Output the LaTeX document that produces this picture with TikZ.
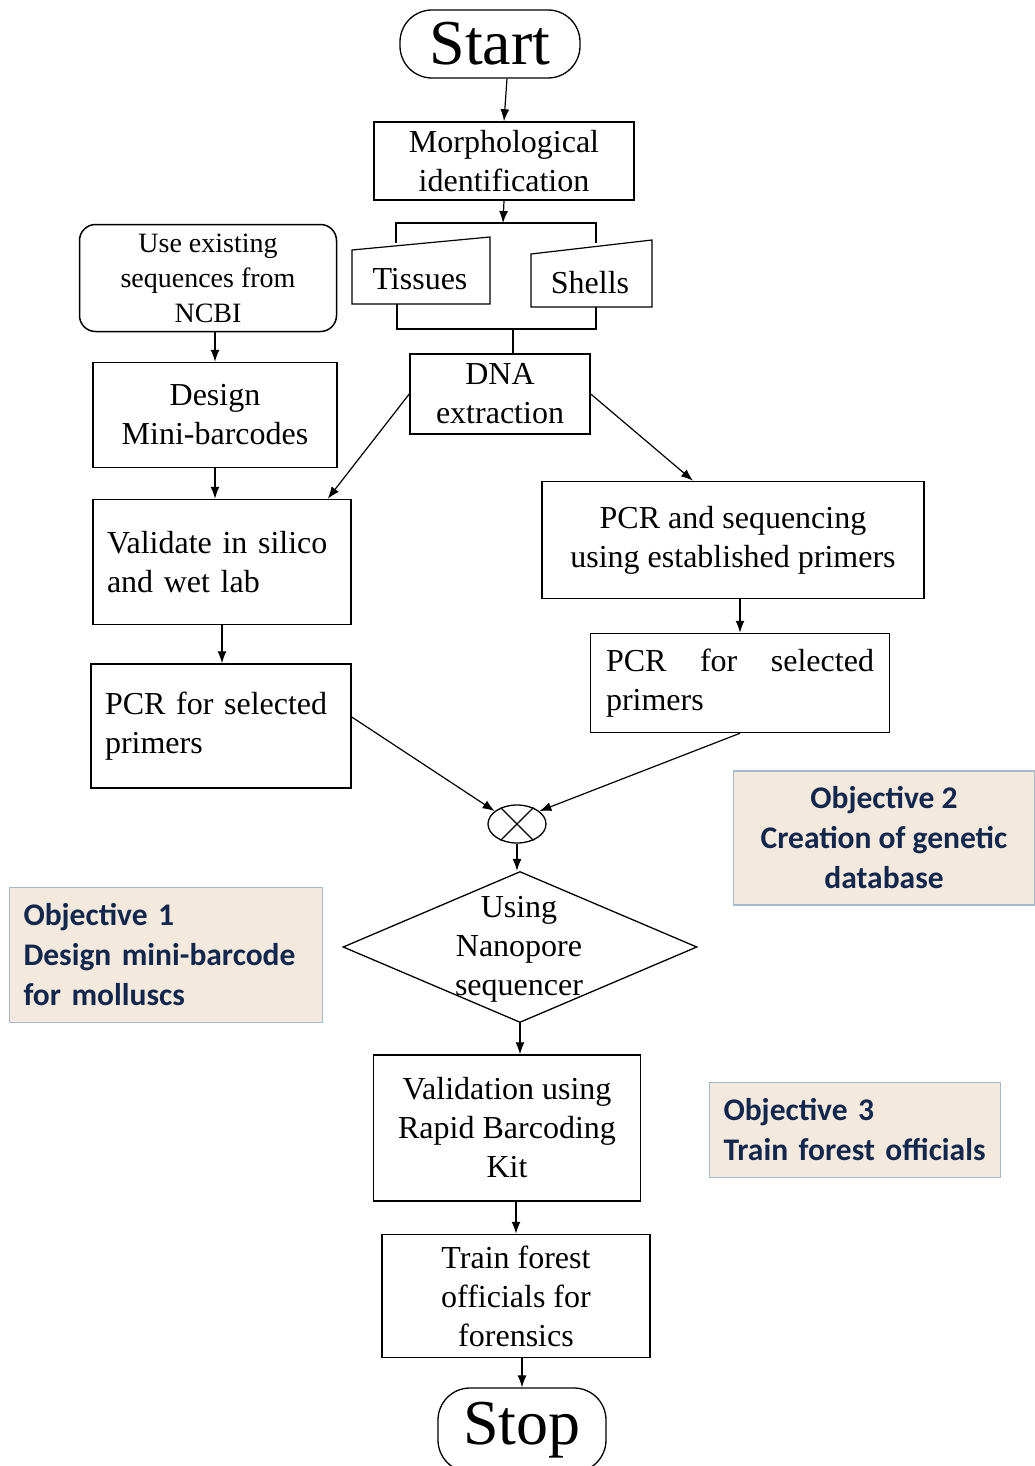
\documentclass[tikz,border=0pt]{standalone}
\usepackage{fontspec}
\setmainfont{Liberation Serif}
\newfontfamily\objfont{Carlito}
\usepackage{xcolor}
\usetikzlibrary{arrows.meta,positioning,shapes.geometric}
\definecolor{objfill}{RGB}{243,234,221}
\definecolor{objline}{RGB}{165,185,205}
\definecolor{objtext}{RGB}{18,38,78}

\begin{document}
\begin{tikzpicture}[x=1pt,y=-1pt,
		box/.style={draw,line width=1.5pt,inner sep=0pt,align=center,font=\fontsize{32}{39}\selectfont},
		term/.style={draw,line width=1.3pt,rounded corners=32pt,inner sep=0pt,font=\fontsize{64}{70}\selectfont},
		objbox/.style={draw=objline,fill=objfill,line width=1.2pt,inner sep=0pt,text=objtext,font=\objfont\bfseries\fontsize{31.5}{40}\selectfont},
		flow/.style={-{Latex[length=12pt,width=9pt]},line width=1.2pt},
		link/.style={line width=1.2pt}]
		\useasboundingbox (0,0) rectangle (1035,1466);
		\node[term,minimum width=180,minimum height=68] (start) at (490,44) {Start};
		\node[box,minimum width=260,minimum height=78] (morph) at (504,161) {Morphological\\identification};
		\draw[link] (352,250) -- (490,237) -- (490,304) -- (352,304) -- cycle;
		\draw[link] (531,254) -- (652,240) -- (652,307) -- (531,307) -- cycle;
		\node[box,draw=none] (tissues) at (420,279) {Tissues};
		\node[box,draw=none] (shells) at (590,283) {Shells};
		\coordinate (fork) at (503,223);
		\coordinate (merge) at (513,329);
		\node[box,minimum width=180,minimum height=80] (dna) at (500,394) {DNA\\extraction};
		\node[box,rounded corners=16pt,minimum width=257,minimum height=107,font=\fontsize{28}{35}\selectfont] (ncbi) at (208,278) {Use existing\\sequences from\\NCBI};
		\node[box,minimum width=244,minimum height=105] (design) at (215,415) {Design\\Mini-barcodes};
		\node[box,minimum width=258,minimum height=125,text width=230,align=left] (validate) at (222,562) {Validate in silico\\and wet lab};
		\node[box,minimum width=260,minimum height=124,text width=232,align=left] (pcrl) at (221,726) {PCR for selected\\primers};
		\node[box,minimum width=382,minimum height=117] (pcrseq) at (733,540) {PCR and sequencing\\using established primers};
		\node[box,minimum width=299,minimum height=99,text width=268,align=left] (pcrr) at (740,683) {\makebox[268pt][l]{PCR\hfill for\hfill selected}\\primers};
		\node[draw,ellipse,line width=1.3pt,minimum width=58,minimum height=38,inner sep=0pt] (join) at (517,824) {};
		\node[draw,diamond,line width=1.3pt,minimum width=354,minimum height=151,inner sep=0pt] (nano) at (520,947) {};
		\node[box,draw=none] (nanotext) at (519,949) {Using\\Nanopore\\sequencer};
		\node[box,minimum width=267,minimum height=146] (valid) at (507,1128) {Validation using\\Rapid Barcoding\\Kit};
		\node[box,minimum width=268,minimum height=123] (train) at (516,1296) {Train forest\\officials for\\forensics};
		\node[term,minimum width=168,minimum height=84] (stop) at (522,1430) {Stop};
		\node[objbox,minimum width=301,minimum height=134,align=center] (obj2) at (884,838) {Objective 2\\Creation of genetic\\database};
		\node[objbox,minimum width=313,minimum height=135,text width=285,align=left] (obj1) at (166,955) {Objective 1\\Design mini-barcode\\for molluscs};
		\node[objbox,minimum width=291,minimum height=95,text width=263,align=left] (obj3) at (855,1130) {Objective 3\\Train forest officials};
		\draw[flow] ([xshift=17]start.south) -- (morph.north);
		\draw[flow] (morph.south) -- (fork);
		\draw[link] (396,243) |- (fork) -| (596,243);
		\draw[link] (397,304) |- (merge) -| (596,307);
		\draw[link] (merge) -- (merge |- dna.north);
		\draw[flow] (ncbi.south -| design) -- (design.north);
		\draw[flow] (design.south) -- (design.south |- validate.north);
		\draw[flow] (validate.south) -- (validate.south |- pcrl.north);
		\draw[flow] (dna.west) -- ([xshift=-24]validate.north east);
		\draw[flow] (dna.east) -- ([xshift=-40]pcrseq.north);
		\draw[flow] (pcrseq.south -| pcrr) -- (pcrr.north);
		\draw[flow] ([yshift=9]pcrl.east) -- (join.150);
		\draw[flow] (pcrr.south) -- (join.30);
		\draw[link] (join.135) -- (join.-45);
		\draw[link] (join.45) -- (join.-135);
		\draw[flow] (join.south) -- (join.south |- nano.north);
		\draw[flow] (nano.south) -- (nano.south |- valid.north);
		\draw[flow] (valid.south -| train) -- (train.north);
		\draw[flow] (train.south -| stop) -- (stop.north);
\end{tikzpicture}
\end{document}
